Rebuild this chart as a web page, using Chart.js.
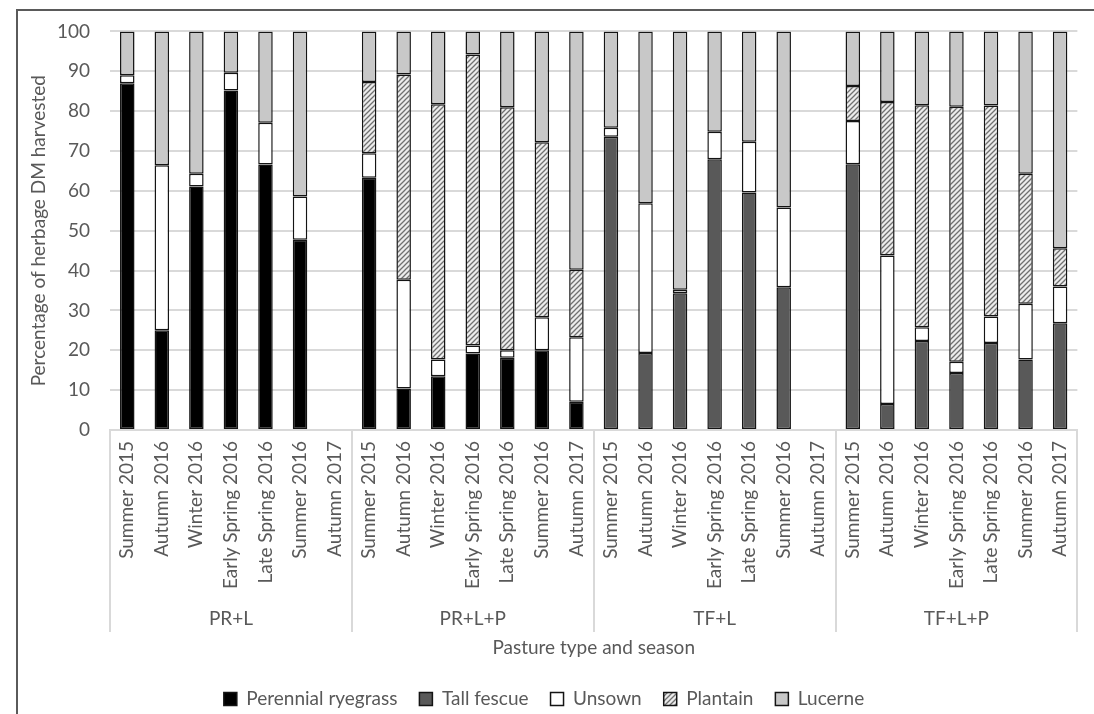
<!DOCTYPE html>
<html>
<head>
<meta charset="utf-8">
<script src="https://cdn.jsdelivr.net/npm/chart.js@4.4.1/dist/chart.umd.min.js"></script>
<style>
  html, body { margin: 0; padding: 0; background: #ffffff; }
  #wrap { width: 1094px; height: 714px; position: relative; }
</style>
</head>
<body>
<div id="wrap"><canvas id="c" width="1094" height="714"></canvas></div>
<script>
// ---- data ----
const groups = ["PR+L", "PR+L+P", "TF+L", "TF+L+P"];
const seasons = ["Summer 2015", "Autumn 2016", "Winter 2016", "Early Spring 2016", "Late Spring 2016", "Summer 2016", "Autumn 2017"];

const perennialRyegrass = [87.0, 25.0, 61.1, 85.2, 66.6, 47.7, null,
                           63.3, 10.4, 13.5, 19.2, 18.1, 20.0, 7.1,
                           null, null, null, null, null, null, null,
                           null, null, null, null, null, null, null];
const tallFescue = [null, null, null, null, null, null, null,
                    null, null, null, null, null, null, null,
                    73.6, 19.3, 34.3, 67.9, 59.6, 35.8, null,
                    66.7, 6.5, 22.3, 14.3, 21.8, 17.7, 26.8];
const unsown = [2.0, 41.4, 3.2, 4.4, 10.5, 10.9, null,
                6.1, 27.3, 4.2, 2.0, 1.9, 8.3, 16.2,
                2.2, 37.6, 0.9, 6.9, 12.7, 20.0, null,
                10.8, 37.3, 3.5, 2.8, 6.7, 14.0, 9.2];
const plantain = [null, null, null, null, null, null, null,
                  17.9, 51.5, 64.0, 73.0, 61.0, 43.9, 16.9,
                  null, null, null, null, null, null, null,
                  8.8, 38.5, 55.7, 64.0, 52.9, 32.6, 9.6];
const lucerne = [11.0, 33.6, 35.7, 10.4, 22.9, 41.4, null,
                 12.7, 10.8, 18.3, 5.8, 19.0, 27.8, 59.8,
                 24.2, 43.1, 64.8, 25.2, 27.7, 44.2, null,
                 13.7, 17.7, 18.5, 18.9, 18.6, 35.7, 54.4];

const yTicks = [0, 10, 20, 30, 40, 50, 60, 70, 80, 90, 100];
const yTitle = "Percentage of herbage DM harvested";
const xTitle = "Pasture type and season";

// ---- build ----
const labels = [];
groups.forEach(() => seasons.forEach(s => labels.push(s)));

function hatch() {
  const c = document.createElement('canvas');
  c.width = 5; c.height = 5;
  const g = c.getContext('2d');
  g.fillStyle = '#ececec';
  g.fillRect(0, 0, 5, 5);
  g.strokeStyle = '#707070';
  g.lineWidth = 1.3;
  g.beginPath();
  g.moveTo(-1, 6); g.lineTo(6, -1);
  g.moveTo(-1, 1); g.lineTo(1, -1);
  g.moveTo(4, 6); g.lineTo(6, 4);
  g.stroke();
  return document.getElementById('c').getContext('2d').createPattern(c, 'repeat');
}

const FONT = 'Lato';
const TXT = '#595959';

const common = { borderColor: '#141414', borderWidth: 1.5, borderSkipped: false,
                 barPercentage: 0.42, categoryPercentage: 1.0 };

const datasets = [
  Object.assign({ label: 'Perennial ryegrass', data: perennialRyegrass, backgroundColor: '#000000' }, common),
  Object.assign({ label: 'Tall fescue', data: tallFescue, backgroundColor: '#595959' }, common),
  Object.assign({ label: 'Unsown', data: unsown, backgroundColor: '#ffffff' }, common),
  Object.assign({ label: 'Plantain', data: plantain, backgroundColor: hatch() }, common),
  Object.assign({ label: 'Lucerne', data: lucerne, backgroundColor: '#c8c8c8' }, common)
];

const groupPlugin = {
  id: 'groupAxis',
  beforeDraw(chart) {
    const ctx = chart.ctx;
    ctx.save();
    ctx.fillStyle = '#ffffff';
    ctx.fillRect(0, 0, chart.width, chart.height);
    ctx.strokeStyle = '#5a5a5a';
    ctx.lineWidth = 2;
    ctx.strokeRect(17, 10, chart.width + 50, chart.height + 50);
    ctx.restore();
  },
  afterDraw(chart) {
    const ctx = chart.ctx;
    const x = chart.scales.x;
    const area = chart.chartArea;
    const n = labels.length;
    const cw = (x.right - x.left) / n;
    ctx.save();
    ctx.strokeStyle = '#d9d9d9';
    ctx.lineWidth = 2;
    for (let g = 0; g <= groups.length; g++) {
      const px = Math.round(x.left + g * seasons.length * cw);
      ctx.beginPath();
      ctx.moveTo(px, area.bottom);
      ctx.lineTo(px, 632);
      ctx.stroke();
    }
    ctx.fillStyle = TXT;
    ctx.font = '19px ' + FONT;
    ctx.textAlign = 'center';
    ctx.textBaseline = 'middle';
    groups.forEach((gname, i) => {
      const cx = x.left + (i * seasons.length + seasons.length / 2) * cw;
      ctx.fillText(gname, cx, 619);
    });
    ctx.restore();
  }
};

new Chart(document.getElementById('c'), {
  type: 'bar',
  data: { labels: labels, datasets: datasets },
  plugins: [groupPlugin],
  options: {
    responsive: false,
    animation: false,
    layout: { padding: { top: 30, right: 6, left: 0, bottom: -4.5 } },
    plugins: {
      tooltip: { enabled: false },
      legend: {
        position: 'bottom',
        labels: {
          boxWidth: 13, boxHeight: 13, padding: 22,
          color: TXT, font: { family: FONT, size: 19 }
        }
      }
    },
    scales: {
      x: {
        stacked: true,
        afterFit: s => { s.height = 237.5; },
        grid: { display: false, drawTicks: false },
        border: { display: true, color: '#d9d9d9', width: 2 },
        ticks: {
          autoSkip: false, minRotation: 90, maxRotation: 90, padding: 11,
          color: TXT, font: { family: FONT, size: 19 }
        },
        title: {
          display: true, text: xTitle, color: TXT,
          font: { family: FONT, size: 19 }, padding: { top: 0, bottom: 8 }
        }
      },
      y: {
        stacked: true,
        min: 0, max: 100,
        afterFit: s => { s.width = 110; },
        afterBuildTicks: s => { s.ticks = yTicks.map(v => ({ value: v })); },
        grid: { color: '#d9d9d9', lineWidth: 2, drawTicks: false },
        border: { display: false },
        ticks: { padding: 20, color: TXT, font: { family: FONT, size: 19 } },
        title: {
          display: true, text: yTitle, color: TXT,
          font: { family: FONT, size: 19 }, padding: { top: 27, bottom: 0 }
        }
      }
    }
  }
});
</script>
</body>
</html>
